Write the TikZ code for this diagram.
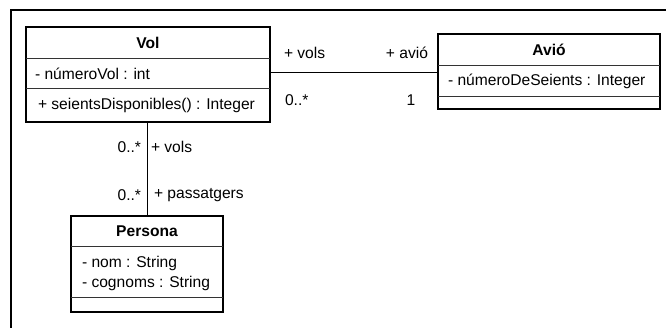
\documentclass[tikz,border=0pt]{standalone}
\usepackage{fontspec}
\setmainfont{Liberation Sans}
\begin{document}
\begin{tikzpicture}[x=1pt,y=-1pt,
  every node/.style={font=\fontsize{15.6}{20}\selectfont, inner sep=0pt, outer sep=0pt},
  classbox/.style={draw=black, line width=2pt, rectangle, anchor=north west},
  divider/.style={draw=black!80, line width=1pt},
  assoc/.style={draw=black, line width=1pt},
  lbl/.style={font=\fontsize{15.6}{20}\selectfont},
  title/.style={font=\fontsize{15.6}{20}\selectfont\bfseries}
]
\useasboundingbox (0,0) rectangle (666,328);
% frame
\draw[line width=2pt] (11,329) -- (11,10) -- (667,10);

% Vol
\node[classbox, minimum width=244pt, minimum height=95pt] (vol) at (26,27) {};
\draw[divider] (26,59) -- (270,59);
\draw[divider] (26,89) -- (270,89);
\node[title] (voltitle) at (148,43) {Vol};
\node[lbl, anchor=west] (volattr) at (35,74) {- númeroVol : int};
\node[lbl, anchor=west] (volop) at (38,105) {+ seientsDisponibles() : Integer};

% Avio
\node[classbox, minimum width=222pt, minimum height=75pt] (avio) at (438,34) {};
\draw[divider] (438,66) -- (660,66);
\draw[divider] (438,97) -- (660,97);
\node[title] (aviotitle) at (549,50) {Avió};
\node[lbl, anchor=west] (avioattr) at (448,81.5) {- númeroDeSeients : Integer};

% Persona
\node[classbox, minimum width=152pt, minimum height=96pt] (persona) at (71,216) {};
\draw[divider] (71,247) -- (223,247);
\draw[divider] (71,298) -- (223,298);
\node[title] (personatitle) at (147,231.5) {Persona};
\node[lbl, anchor=west] (pattr1) at (82,263) {- nom : String};
\node[lbl, anchor=west] (pattr2) at (82,283) {- cognoms : String};

% associations
\draw[assoc] ([yshift=-1.5pt]vol.east |- avio.west) -- ([yshift=-1.5pt]avio.west);
\draw[assoc] (vol.south -| persona.north) -- (persona.north);

% labels horizontal association
\node[lbl, anchor=west] (l1) at (284,53) {+ vols};
\node[lbl, anchor=east] (l2) at (428,53) {+ avió};
\node[lbl, anchor=west] (l3) at (285,100) {0..*};
\node[lbl] (l4) at (411,100) {1};

% labels vertical association
\node[lbl, anchor=east] (l5) at (141,147) {0..*};
\node[lbl, anchor=west] (l6) at (151,147) {+ vols};
\node[lbl, anchor=east] (l7) at (141,195) {0..*};
\node[lbl, anchor=west] (l8) at (154,195) {+ passatgers};
\end{tikzpicture}
\end{document}
